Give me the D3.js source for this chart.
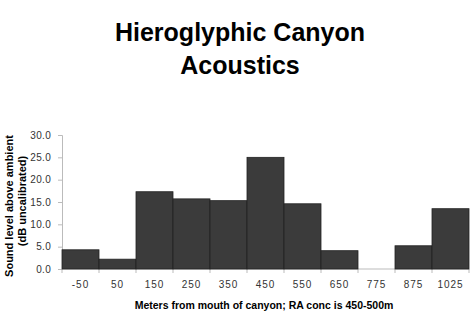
<!DOCTYPE html>
<meta charset="utf-8">
<style>
body { margin:0; background:#fff; }
svg text { font-family: "Liberation Sans", Arial, sans-serif; }
</style>
<body>
<svg width="474" height="321" id="vis"></svg>
</body>
<script src="https://d3js.org/d3.v7.min.js"></script>
<script>
var categories = ["-50","50","150","250","350","450","550","650","775","875","1025"];
var soundLevels = [4.3, 2.2, 17.3, 15.7, 15.3, 25.0, 14.6, 4.1, 0, 5.2, 13.5];
var yTicks = [0, 5, 10, 15, 20, 25, 30];

var svg = d3.select("svg"),
    margin = {top: 135, right: 5, bottom: 52, left: 62},
    width = +svg.attr("width") - margin.left - margin.right,
    height = +svg.attr("height") - margin.top - margin.bottom;

var data = categories.map(function(c, i) { return {cat: c, val: soundLevels[i]}; });

// title
svg.append("text")
    .attr("x", 240).attr("y", 41)
    .attr("text-anchor", "middle")
    .style("font-size", "25px").style("font-weight", "bold")
    .text("Hieroglyphic Canyon");
svg.append("text")
    .attr("x", 240).attr("y", 74)
    .attr("text-anchor", "middle")
    .style("font-size", "25px").style("font-weight", "bold")
    .text("Acoustics");

var g = svg.append("g")
    .attr("transform", "translate(" + margin.left + "," + margin.top + ")");

var x = d3.scaleBand().domain(categories).range([0, width]).padding(0);
var y = d3.scaleLinear().domain([0, 30]).range([height, 0]);

// y axis
var yaxis = g.append("g")
    .call(d3.axisLeft(y).tickValues(yTicks).tickFormat(d3.format(".1f")).tickSizeOuter(0).tickSize(4));
yaxis.select(".domain").attr("stroke", "#bbb");
yaxis.selectAll(".tick line").attr("stroke", "#bbb");
yaxis.selectAll("text")
    .attr("fill", "#333")
    .style("font-size", "10px")
    .style("letter-spacing", "0.3px")
    .attr("x", -11);

// x axis: ticks at band edges
var xaxis = g.append("g")
    .attr("transform", "translate(0," + height + ")");
xaxis.append("line")
    .attr("x1", 0).attr("x2", width)
    .attr("stroke", "#bbb");
xaxis.selectAll("line.edge")
    .data(categories.concat(["end"]))
    .enter().append("line")
    .attr("class", "edge")
    .attr("x1", function(d, i) { return i * x.bandwidth(); })
    .attr("x2", function(d, i) { return i * x.bandwidth(); })
    .attr("y1", 0).attr("y2", 4)
    .attr("stroke", "#bbb");
xaxis.selectAll("text")
    .data(categories)
    .enter().append("text")
    .attr("x", function(d) { return x(d) + x.bandwidth() / 2; })
    .attr("y", 19)
    .attr("text-anchor", "middle")
    .attr("fill", "#333")
    .style("font-size", "10px")
    .style("letter-spacing", "1px")
    .text(function(d) { return d; });

// bars
g.selectAll(".bar")
    .data(data)
    .enter().append("rect")
    .attr("class", "bar")
    .attr("x", function(d) { return x(d.cat); })
    .attr("y", function(d) { return y(d.val); })
    .attr("width", x.bandwidth())
    .attr("height", function(d) { return height - y(d.val); })
    .attr("fill", "#3b3b3b")
    .attr("stroke", "#222")
    .attr("stroke-width", 0.8)
    .style("display", function(d) { return d.val > 0 ? null : "none"; });

// axis labels
svg.append("text")
    .attr("transform", "translate(13,206) rotate(-90)")
    .attr("text-anchor", "middle")
    .style("font-size", "11px").style("font-weight", "bold")
    .text("Sound level above ambient");
svg.append("text")
    .attr("transform", "translate(26,201) rotate(-90)")
    .attr("text-anchor", "middle")
    .style("font-size", "11px").style("font-weight", "bold")
    .text("(dB uncalibrated)");

svg.append("text")
    .attr("x", 264).attr("y", 309)
    .attr("text-anchor", "middle")
    .style("font-size", "10.5px").style("font-weight", "bold")
    .text("Meters from mouth of canyon; RA conc is 450-500m");
</script>
